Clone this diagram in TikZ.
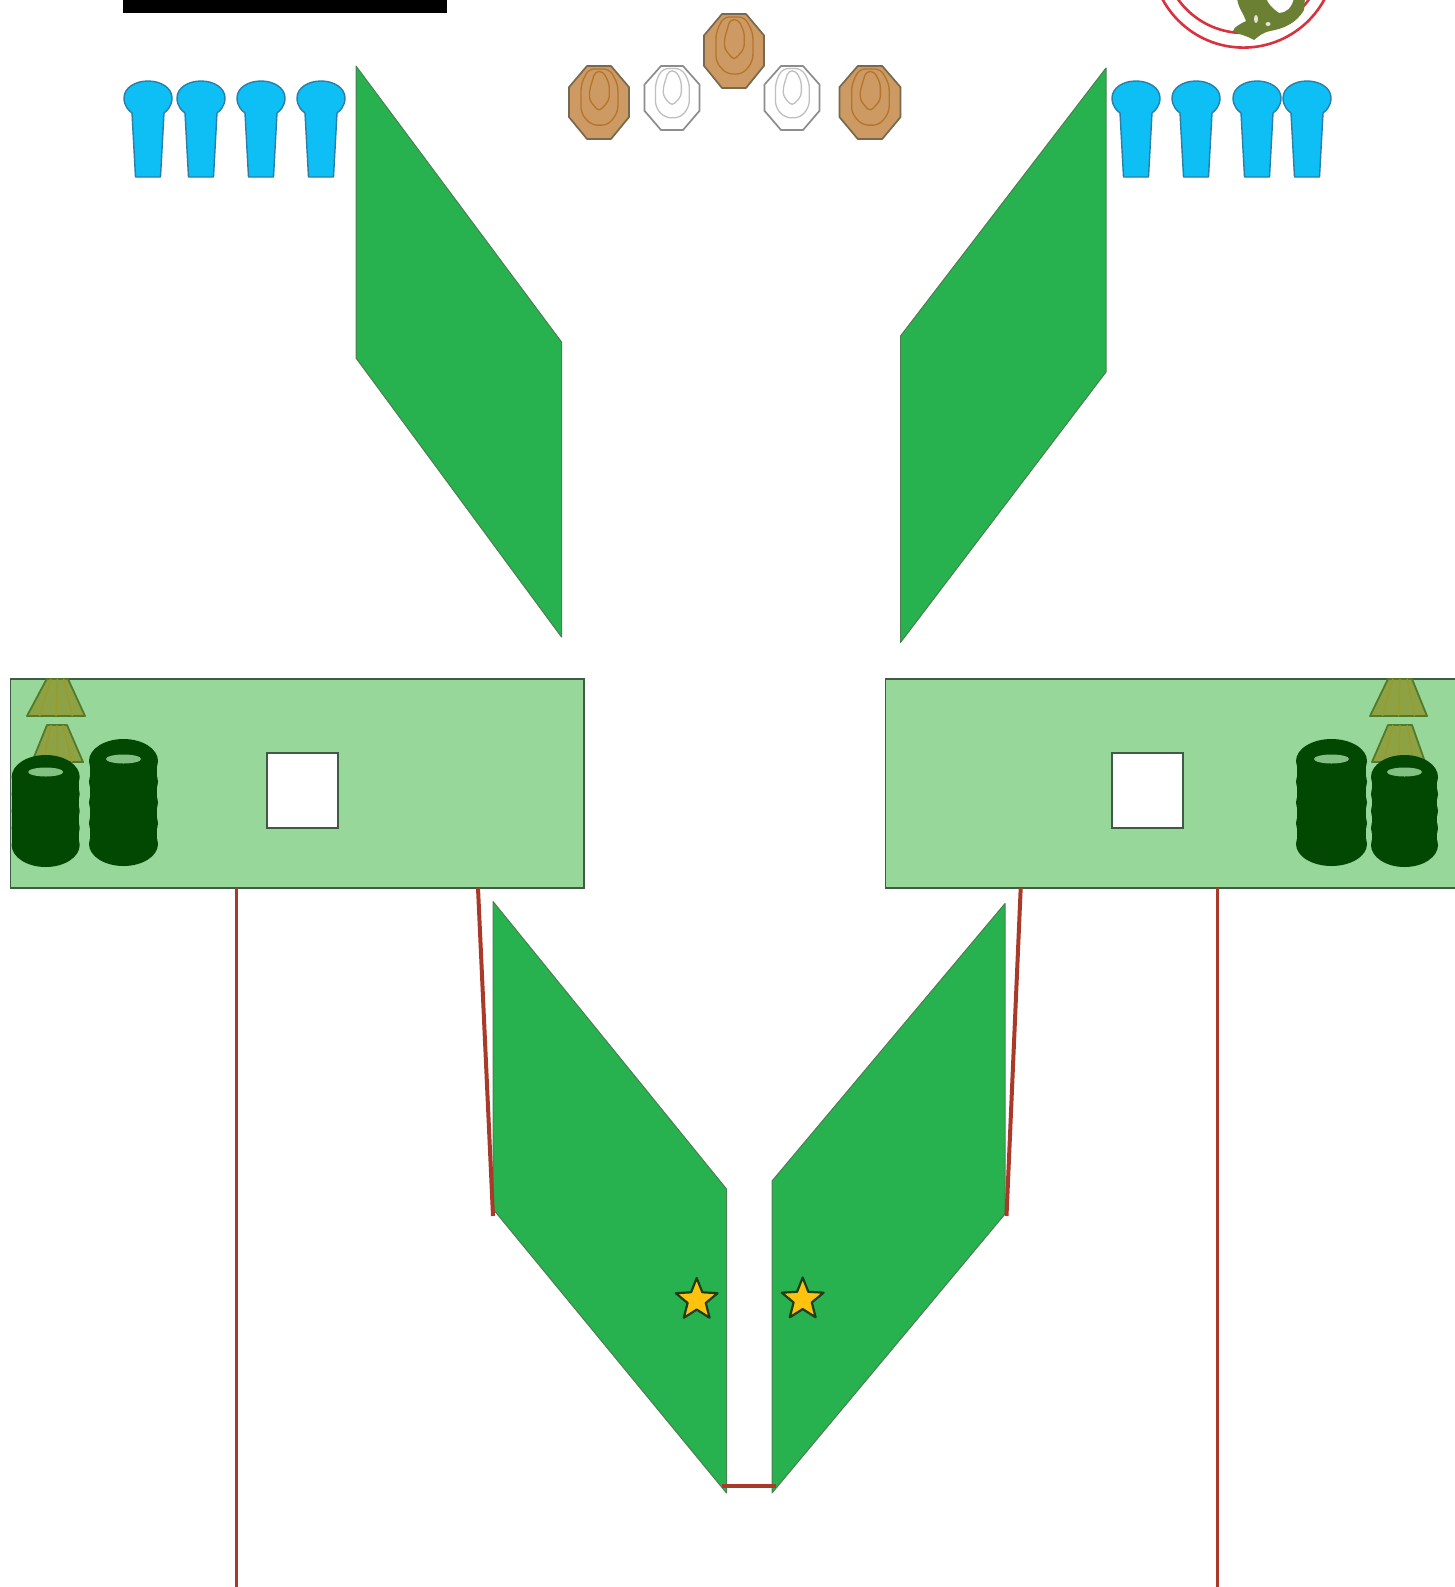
\documentclass[tikz,border=0pt]{standalone}
\usetikzlibrary{shapes.geometric}
\definecolor{wingreen}{HTML}{27B14F}
\definecolor{wingedge}{HTML}{4A7F50}
\definecolor{panelgreen}{HTML}{98D79A}
\definecolor{paneledge}{HTML}{3F5A45}
\definecolor{wirered}{HTML}{A93A2A}
\definecolor{pinblue}{HTML}{0DBFF5}
\definecolor{pinedge}{HTML}{2A7FA8}
\definecolor{tan}{HTML}{CC9A62}
\definecolor{tanedge}{HTML}{76694F}
\definecolor{tanring}{HTML}{B4742E}
\definecolor{barrelgreen}{HTML}{024702}
\definecolor{conefill}{HTML}{8CA244}
\definecolor{coneedge}{HTML}{547A28}
\definecolor{conerib}{HTML}{9C9A28}
\definecolor{ringred}{HTML}{D6323F}
\definecolor{dragon}{HTML}{6B8033}
\definecolor{stargold}{HTML}{FFC20E}
\definecolor{starline}{HTML}{1E3D1A}
\tikzset{
  wing/.style={fill=wingreen,draw=wingedge,line width=1pt,line join=round},
  panelbox/.style={fill=panelgreen,draw=paneledge,line width=1.7pt},
  hatchbox/.style={fill=white,draw=paneledge,line width=2pt},
  thinwire/.style={draw=wirered,line width=2.2pt},
  thickwire/.style={draw=wirered,line width=4pt},
  starmark/.style={star,star points=5,star point ratio=2.3,minimum size=44pt,inner sep=0pt,fill=stargold,draw=starline,line width=2.2pt,line join=round},
  ringline/.style={draw=ringred,line width=2.6pt},
}
% pin: centre x
\newcommand{\pinmark}[1]{%
  \begin{scope}[shift={(#1,0)}]
    \draw[fill=pinblue,draw=pinedge,line width=1.4pt,line join=round]
      (-12.5,177) -- (-16,113) .. controls (-19,111) and (-24,106) .. (-24,98)
      .. controls (-24,88) and (-13,81) .. (0,81)
      .. controls (13,81) and (24,88) .. (24,98)
      .. controls (24,106) and (19,111) .. (16,113) -- (12.5,177) -- cycle;
  \end{scope}}
% target: cx, cy, half width, half height, fill, edge, ring
\newcommand{\targetmark}[7]{%
  \begin{scope}[shift={(#1,#2)},x=#3pt,y=-#4pt,line join=round]
    \draw[fill=#5,draw=#6,line width=1.7pt]
      (-.4,-1) -- (.4,-1) -- (1,-.42) -- (1,.4) -- (.4,1) -- (-.4,1) -- (-1,.4) -- (-1,-.42) -- cycle;
    \draw[draw=#7,line width=1.3pt,rounded corners=6pt]
      (-.35,-.92) -- (.35,-.92) -- (.63,-.5) -- (.63,.27) -- (.3,.62) -- (-.25,.62) -- (-.6,.3) -- (-.6,-.5) -- cycle;
    \draw[draw=#7,line width=1.3pt,rounded corners=4pt]
      (-.32,-.33) -- (-.32,-.06) -- (0,.25) -- (.34,-.06) -- (.34,-.52) -- (.14,-.85) -- (-.13,-.85) -- cycle;
  \end{scope}}
% barrel: cx, top y, bottom y, half width, hole y
\newcommand{\barrelmark}[5]{%
  \begin{scope}[shift={(#1,0)}]
    \foreach \f in {0,0.25,0.5,0.75,1} {
      \fill[barrelgreen] (0,{#2+22+\f*(#3-#2-44)}) ellipse [x radius=#4,y radius=22];
    }
    \fill[barrelgreen] (-#4+0.7,#2+22) rectangle (#4-0.7,#3-22);
    \fill[panelgreen!85!barrelgreen] (0,#5) ellipse [x radius=17.5,y radius=4.5];
  \end{scope}}
% cone: top-left, top-right, bottom-left, bottom-right x; top y; bottom y
\newcommand{\conemark}[6]{%
  \draw[fill=conefill,draw=coneedge,line width=1.8pt,line join=round]
    (#1,#5) -- (#2,#5) -- (#4,#6) -- (#3,#6) -- cycle;
  \draw[draw=conerib,line width=1.3pt]
    ({0.5*#1+0.5*#2},#5) -- ({0.5*#3+0.5*#4},#6)
    ({0.8*#1+0.2*#2},#5) -- ({0.78*#3+0.22*#4},#6)
    ({0.2*#1+0.8*#2},#5) -- ({0.22*#3+0.78*#4},#6);}
\begin{document}
\begin{tikzpicture}[x=1pt,y=-1pt]
\useasboundingbox (0,0) rectangle (1455,1587);
\clip (0,0) rectangle (1455,1587);
\fill[white] (0,0) rectangle (1455,1587);

% black bar
\fill[black] (123,-2) rectangle (447,13.3);

% red rings and dragon
\draw[ringline] (1243.5,-44.4) circle [radius=92];
\draw[ringline] (1243.5,-47.5) circle [radius=80.5];
\fill[dragon] (1237,-2) .. controls (1238,8) and (1244,14) .. (1246,21)
  .. controls (1240,24) and (1234,27) .. (1233,31)
  .. controls (1240,35) and (1248,36) .. (1254,40)
  .. controls (1259,36) and (1262,33) .. (1270,31)
  .. controls (1282,29) and (1296,24) .. (1304,10)
  -- (1305,-2) -- (1294,-2)
  .. controls (1292,8) and (1286,13) .. (1279,13)
  .. controls (1272,8) and (1268,4) .. (1266,-2) -- cycle;
\fill[white!80!dragon] (1256,19) ellipse [x radius=2,y radius=4];
\fill[white!80!dragon] (1268,24) ellipse [x radius=2.5,y radius=2];

% blue pins
\pinmark{148}\pinmark{201}\pinmark{261}\pinmark{321}
\pinmark{1136}\pinmark{1196}\pinmark{1257}\pinmark{1307}

% targets
\targetmark{599}{102.5}{30}{36.5}{tan}{tanedge}{tanring}
\targetmark{672}{98}{27.5}{32}{white}{black!45}{black!25}
\targetmark{734}{51}{30}{37}{tan}{tanedge}{tanring}
\targetmark{792}{98}{27.5}{32}{white}{black!45}{black!25}
\targetmark{870}{102.5}{30.5}{36.5}{tan}{tanedge}{tanring}

% upper wings
\draw[wing] (356,66) -- (561.5,342) -- (561.5,637) -- (356,358) -- cycle;
\draw[wing] (1106,68) -- (900.5,336) -- (900.5,642.5) -- (1106,372) -- cycle;

% panels
\draw[panelbox] (10.5,679) rectangle (584,888);
\draw[panelbox] (885.5,679) rectangle (1460,888);
\node[hatchbox,minimum width=71pt,minimum height=75pt,inner sep=0pt] (boxL) at (302.5,790.5) {};
\node[hatchbox,minimum width=71pt,minimum height=75pt,inner sep=0pt] (boxR) at (1147,790.5) {};

% cones
\conemark{46.7}{68}{27}{85}{679}{716}
\conemark{47}{67}{32}{83}{725}{762}
\conemark{1388}{1412}{1370}{1427}{679}{716}
\conemark{1388}{1412}{1372}{1425}{725}{762}

% barrels
\barrelmark{45.7}{755}{867}{34}{772}
\barrelmark{123.5}{739}{866}{34.5}{759}
\barrelmark{1331.5}{739}{866}{35.5}{759}
\barrelmark{1404.5}{755}{867}{33.5}{772}

% lower wings
\draw[wing] (493,901.5) -- (726.5,1189) -- (726.5,1493) -- (493,1209) -- cycle;
\draw[wing] (1005,903.5) -- (772,1181) -- (772,1493) -- (1005,1214) -- cycle;

% connector end points
\coordinate (wireLtop) at (478,888);
\coordinate (wireLbot) at (493,1216);
\coordinate (wireRtop) at (1020.7,888);
\coordinate (wireRbot) at (1006.5,1216);
\coordinate (wireBL) at (722,1486);
\coordinate (wireBR) at (776,1486);
\coordinate (longLtop) at (236.5,888);
\coordinate (longLbot) at (236.5,1590);
\coordinate (longRtop) at (1217.5,888);
\coordinate (longRbot) at (1217.5,1590);
\draw[thickwire] (wireLtop) -- (wireLbot);
\draw[thickwire] (wireRtop) -- (wireRbot);
\draw[thickwire] (wireBL) -- (wireBR);
\draw[thinwire] (longLtop) -- (longLbot);
\draw[thinwire] (longRtop) -- (longRbot);

% stars
\node[starmark] (starL) at (696.7,1300) {};
\node[starmark] (starR) at (802.7,1299.5) {};
\end{tikzpicture}
\end{document}
